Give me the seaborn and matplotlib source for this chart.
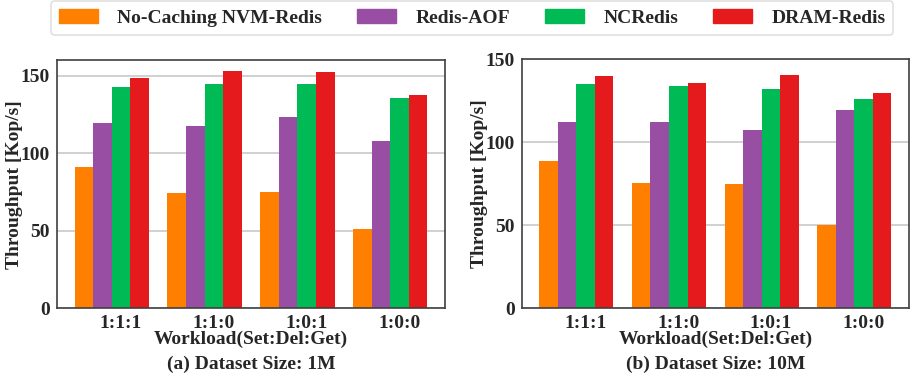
import numpy as np
import pandas as pd
import matplotlib
matplotlib.use("Agg")
import matplotlib.pyplot as plt
import seaborn as sns

workloads = ["1:1:1", "1:1:0", "1:0:1", "1:0:0"]
systems = ["No-Caching NVM-Redis", "Redis-AOF", "NCRedis", "DRAM-Redis"]
colors = ["#FF7F00", "#984EA3", "#00BA55", "#E41A1C"]

# throughput in Kop/s, dataset size 1M
nocache_1m = [91.1, 74.4, 75.0, 51.1]
aof_1m = [119.5, 117.6, 123.4, 107.9]
ncredis_1m = [142.7, 144.6, 144.6, 135.6]
dram_1m = [148.5, 153.0, 152.4, 137.5]

# throughput in Kop/s, dataset size 10M
nocache_10m = [88.8, 75.5, 74.9, 50.2]
aof_10m = [112.2, 112.2, 107.4, 119.5]
ncredis_10m = [135.1, 133.9, 132.1, 126.1]
dram_10m = [140.0, 135.7, 140.6, 129.7]


def to_long(series):
    rows = []
    for name, vals in zip(systems, series):
        for w, v in zip(workloads, vals):
            rows.append({"workload": w, "system": name, "tput": v})
    return pd.DataFrame(rows)


df_1m = to_long([nocache_1m, aof_1m, ncredis_1m, dram_1m])
df_10m = to_long([nocache_10m, aof_10m, ncredis_10m, dram_10m])

sns.set_style("white")
plt.rcParams["font.family"] = ["Liberation Serif", "DejaVu Serif"]
plt.rcParams["font.weight"] = "bold"

fig = plt.figure(figsize=(9.1, 3.88), dpi=100)
ax1 = fig.add_axes([0.0626, 0.2054, 0.4264, 0.640])
ax2 = fig.add_axes([0.5733, 0.2054, 0.4256, 0.6418])

panels = [(ax1, df_1m, 160, "(a) Dataset Size: 1M"),
          (ax2, df_10m, 150, "(b) Dataset Size: 10M")]

for ax, df, ymax, cap in panels:
    sns.barplot(data=df, x="workload", y="tput", hue="system",
                palette=colors, width=0.8, saturation=1, ax=ax,
                legend=False, linewidth=0, edgecolor="none")
    ax.set_xlim(-0.59, 3.59)
    ax.set_ylim(0, ymax)
    ax.set_yticks([0, 50, 100, 150])
    ax.set_xticks(np.arange(len(workloads)) + 0.1)
    ax.set_xticklabels(workloads)
    ax.yaxis.grid(True, color="#c8c8c8", linewidth=1.2)
    ax.set_axisbelow(True)
    ax.tick_params(axis="both", labelsize=14, length=3, width=1,
                   color="#404040", pad=2)
    for lab in ax.get_xticklabels() + ax.get_yticklabels():
        lab.set_fontweight("bold")
    for sp in ax.spines.values():
        sp.set_visible(True)
        sp.set_color("#404040")
        sp.set_linewidth(1.2)
    ax.set_xlabel("Workload(Set:Del:Get)", fontsize=14, fontweight="bold",
                  labelpad=-1)
    ax.set_ylabel("Throughput [Kop/s]", fontsize=14, fontweight="bold")
    ax.yaxis.set_label_coords(-0.088, 0.5)
    ax.text(0.5, -0.225, cap, transform=ax.transAxes, ha="center",
            va="center", fontsize=14, fontweight="bold")

handles = [plt.Rectangle((0, 0), 1, 1, color=c) for c in colors]
leg = fig.legend(handles, systems, loc="upper center", ncol=4,
                 bbox_to_anchor=(0.519, 0.997), borderaxespad=0,
                 frameon=True, handlelength=2.0, handleheight=0.75,
                 columnspacing=1.8, borderpad=0.4, handletextpad=1.0,
                 prop={"weight": "bold", "size": 14})
leg.get_frame().set_edgecolor("#d8d8d8")
leg.get_frame().set_linewidth(1.2)

fig.savefig("out.png", dpi=100)
